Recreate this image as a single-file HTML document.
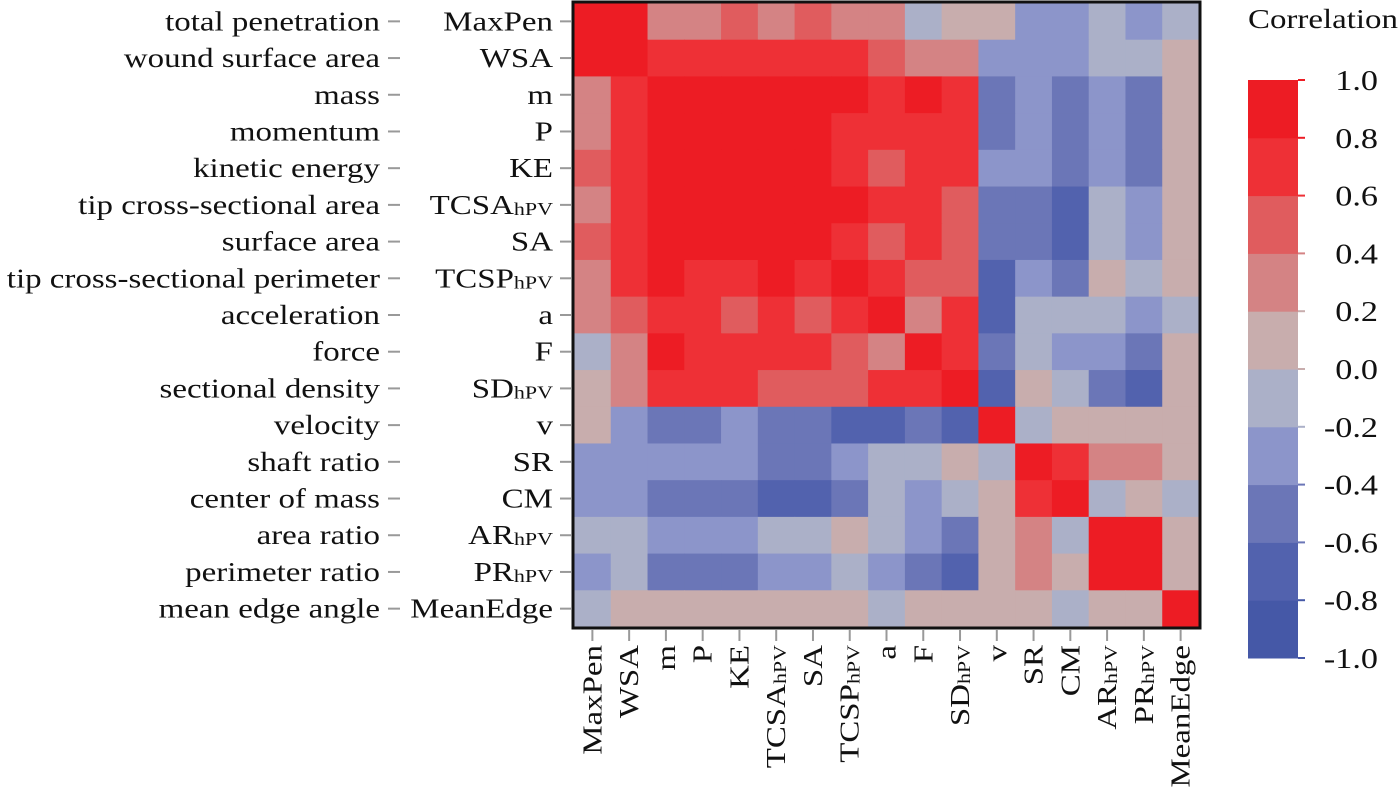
<!DOCTYPE html>
<html><head><meta charset="utf-8"><style>
html,body{margin:0;padding:0;background:#fff;width:1400px;height:793px;overflow:hidden}
svg{display:block}
svg text{font-family:"Liberation Serif","DejaVu Serif",serif}
</style></head><body>
<svg id="chart" width="1400" height="793" viewBox="0 0 1400 793" xmlns="http://www.w3.org/2000/svg" font-family="Liberation Serif, serif"></svg>
<script>
const abbrevs = [["MaxPen",""],["WSA",""],["m",""],["P",""],["KE",""],["TCSA","hPV"],["SA",""],["TCSP","hPV"],["a",""],["F",""],["SD","hPV"],["v",""],["SR",""],["CM",""],["AR","hPV"],["PR","hPV"],["MeanEdge",""]];
const fullNames = ["total penetration","wound surface area","mass","momentum","kinetic energy","tip cross-sectional area","surface area","tip cross-sectional perimeter","acceleration","force","sectional density","velocity","shaft ratio","center of mass","area ratio","perimeter ratio","mean edge angle"];
const corr = [
[0.9,0.9,0.3,0.3,0.5,0.3,0.5,0.3,0.3,-0.1,0.1,0.1,-0.3,-0.3,-0.1,-0.3,-0.1],
[0.9,0.9,0.7,0.7,0.7,0.7,0.7,0.7,0.5,0.3,0.3,-0.3,-0.3,-0.3,-0.1,-0.1,0.1],
[0.3,0.7,0.9,0.9,0.9,0.9,0.9,0.9,0.7,0.9,0.7,-0.5,-0.3,-0.5,-0.3,-0.5,0.1],
[0.3,0.7,0.9,0.9,0.9,0.9,0.9,0.7,0.7,0.7,0.7,-0.5,-0.3,-0.5,-0.3,-0.5,0.1],
[0.5,0.7,0.9,0.9,0.9,0.9,0.9,0.7,0.5,0.7,0.7,-0.3,-0.3,-0.5,-0.3,-0.5,0.1],
[0.3,0.7,0.9,0.9,0.9,0.9,0.9,0.9,0.7,0.7,0.5,-0.5,-0.5,-0.7,-0.1,-0.3,0.1],
[0.5,0.7,0.9,0.9,0.9,0.9,0.9,0.7,0.5,0.7,0.5,-0.5,-0.5,-0.7,-0.1,-0.3,0.1],
[0.3,0.7,0.9,0.7,0.7,0.9,0.7,0.9,0.7,0.5,0.5,-0.7,-0.3,-0.5,0.1,-0.1,0.1],
[0.3,0.5,0.7,0.7,0.5,0.7,0.5,0.7,0.9,0.3,0.7,-0.7,-0.1,-0.1,-0.1,-0.3,-0.1],
[-0.1,0.3,0.9,0.7,0.7,0.7,0.7,0.5,0.3,0.9,0.7,-0.5,-0.1,-0.3,-0.3,-0.5,0.1],
[0.1,0.3,0.7,0.7,0.7,0.5,0.5,0.5,0.7,0.7,0.9,-0.7,0.1,-0.1,-0.5,-0.7,0.1],
[0.1,-0.3,-0.5,-0.5,-0.3,-0.5,-0.5,-0.7,-0.7,-0.5,-0.7,0.9,-0.1,0.1,0.1,0.1,0.1],
[-0.3,-0.3,-0.3,-0.3,-0.3,-0.5,-0.5,-0.3,-0.1,-0.1,0.1,-0.1,0.9,0.7,0.3,0.3,0.1],
[-0.3,-0.3,-0.5,-0.5,-0.5,-0.7,-0.7,-0.5,-0.1,-0.3,-0.1,0.1,0.7,0.9,-0.1,0.1,-0.1],
[-0.1,-0.1,-0.3,-0.3,-0.3,-0.1,-0.1,0.1,-0.1,-0.3,-0.5,0.1,0.3,-0.1,0.9,0.9,0.1],
[-0.3,-0.1,-0.5,-0.5,-0.5,-0.3,-0.3,-0.1,-0.3,-0.5,-0.7,0.1,0.3,0.1,0.9,0.9,0.1],
[-0.1,0.1,0.1,0.1,0.1,0.1,0.1,0.1,-0.1,0.1,0.1,0.1,0.1,-0.1,0.1,0.1,0.9]];
const colorbarTicks = ["1.0","0.8","0.6","0.4","0.2","0.0","-0.2","-0.4","-0.6","-0.8","-1.0"];
const binColors = ["#4558a7","#5262ae","#6b76b7","#8c95ca","#abb0c8","#c8adad","#d48384","#e05c5e","#ee3036","#ed1c24"];

const NS="http://www.w3.org/2000/svg";
const svg=document.getElementById('chart');
function mk(tag,attrs,parent){const e=document.createElementNS(NS,tag);for(const k in attrs)e.setAttribute(k,attrs[k]);(parent||svg).appendChild(e);return e;}
const gx0=574, gy0=3, gx1=1199, gy1=627, n=abbrevs.length;
const cw=(gx1-gx0)/n, ch=(gy1-gy0)/n;
const xPos=i=>gx0+i*cw, yPos=i=>gy0+i*ch;
function colorOf(v){let b=Math.floor((v+1)/0.2);b=Math.max(0,Math.min(9,b));return binColors[b];}
const FF='"Liberation Serif", serif';
const WIDEN=1.22;
function widen(t){const L=t.getComputedTextLength();if(L>0){t.setAttribute('textLength',(L*WIDEN).toFixed(1));t.setAttribute('lengthAdjust','spacingAndGlyphs');}}

for(let r=0;r<n;r++)for(let c=0;c<n;c++){
  const el=mk('rect',{x:xPos(c),y:yPos(r),width:cw+0.6,height:ch+0.6,fill:colorOf(corr[r][c])});
  
  
}
const fr=mk('rect',{x:gx0-1,y:gy0-1,width:gx1-gx0+2,height:gy1-gy0+2,fill:'none',stroke:'#111','stroke-width':3});



function addLabel(parent,main,sub,attrs){
  attrs['font-family']=FF;
  const t=mk('text',attrs,parent);
  t.appendChild(document.createTextNode(main));
  if(sub){const s=mk('tspan',{'font-size':18,dy:1},t);s.textContent=sub;}
  widen(t);
  return t;
}
for(let i=0;i<n;i++){
  const cy=yPos(i)+ch/2;
  const f=mk('text',{x:380,y:cy+9,'text-anchor':'end','font-size':27,fill:'#111','font-family':FF});
  f.textContent=fullNames[i];
  widen(f);
  
  
  mk('line',{x1:388,x2:400,y1:cy,y2:cy,stroke:'#999','stroke-width':2});
  const a=addLabel(svg,abbrevs[i][0],abbrevs[i][1],{x:553,y:cy+9,'text-anchor':'end','font-size':27,fill:'#111'});
  
  
  mk('line',{x1:560,x2:571,y1:cy,y2:cy,stroke:'#999','stroke-width':2});
  const cx=xPos(i)+cw/2;
  mk('line',{x1:cx,x2:cx,y1:630,y2:641,stroke:'#999','stroke-width':2});
  const g=mk('g',{transform:`translate(${cx+9},645) rotate(-90)`});
  const b=addLabel(g,abbrevs[i][0],abbrevs[i][1],{x:0,y:0,'text-anchor':'end','font-size':27,fill:'#111'});
  
  
}
const cbx=1248,cbw=50,cbt=80,cbb=658;
const bh=(cbb-cbt)/binColors.length;
for(let k=0;k<binColors.length;k++){
  const r=mk('rect',{x:cbx,y:cbb-(k+1)*bh,width:cbw,height:bh+0.5,fill:binColors[k]});
  
  
}
for(let k=0;k<colorbarTicks.length;k++){
  const y=cbt+k*(cbb-cbt)/(colorbarTicks.length-1);
  const v=parseFloat(colorbarTicks[k]);
  mk('line',{x1:cbx+cbw,x2:cbx+cbw+7,y1:y,y2:y,stroke:colorOf(v===0?0.05:v),'stroke-width':2});
  const t=mk('text',{x:1378,y:y+10,'text-anchor':'end','font-size':28,fill:'#111','font-family':FF});
  t.textContent=colorbarTicks[k];
  widen(t);
  
  
}
const ttl=mk('text',{x:1248,y:28,'font-size':27,fill:'#111','font-family':FF});
ttl.textContent='Correlation';
widen(ttl);


</script>
</body></html>
